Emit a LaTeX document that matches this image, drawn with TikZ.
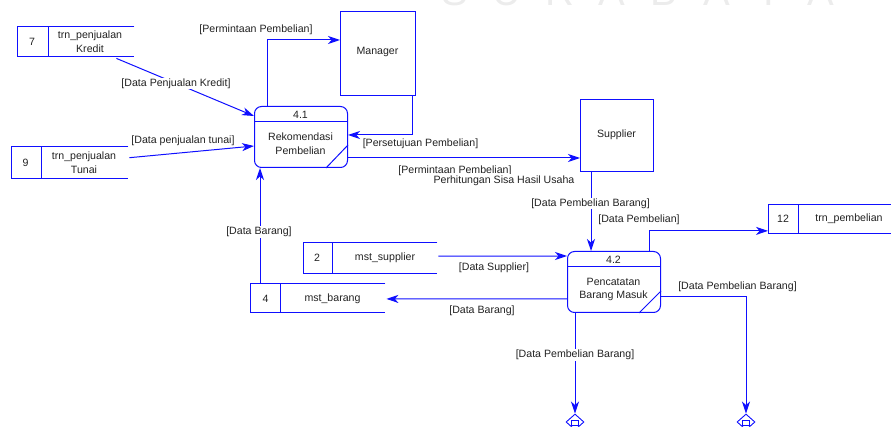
\documentclass[tikz,border=0pt]{standalone}
\usepackage{fontspec}
\setmainfont{Liberation Sans}
\usetikzlibrary{arrows.meta,calc,shapes.geometric}
\definecolor{dfdblue}{RGB}{15,15,255}
\definecolor{inkgray}{RGB}{34,34,34}
\definecolor{wmgray}{RGB}{236,236,236}

\begin{document}
\begin{tikzpicture}[x=1pt,y=-1pt,
  every node/.style={font=\fontsize{10.6}{13.7}\selectfont, text=inkgray, inner sep=0pt, align=center},
  wire/.style={draw=dfdblue, line width=1pt},
  flow/.style={wire, -{Stealth[length=12pt,width=8pt,inset=3.5pt]}},
  slot/.style={rectangle, anchor=north west, draw=none, inner sep=0pt},
  procbox/.style={rectangle, anchor=north west, draw=dfdblue, line width=1pt, rounded corners=7pt,
                  minimum width=93pt, minimum height=61pt, inner sep=0pt},
  entity/.style={rectangle, anchor=north west, draw=dfdblue, line width=1pt, inner sep=0pt},
  sink/.style={diamond, draw=dfdblue, line width=0.9pt, minimum width=18pt, minimum height=16pt, inner sep=0pt},
  lbl/.style={},
  lblw/.style={fill=white, inner sep=1pt},
  wm/.style={font=\fontsize{40}{40}\selectfont, text=wmgray, anchor=base}
]
\useasboundingbox (0,0) rectangle (891,427);
\clip (0,0) rectangle (891,427);

% faint watermark lettering along the top edge
\foreach \ch [count=\i] in {S,U,R,A,B,A,Y,A}
  \node[wm] (wm\i) at ({455+(\i-1)*52.3},6) {\ch};

% ---------- data stores ----------
\node[slot, minimum width=117pt, minimum height=29pt] (s7) at (17,27) {};
\node[slot, minimum width=117pt, minimum height=31pt] (s9) at (11,147) {};
\node[slot, minimum width=130pt, minimum height=28pt] (s12) at (768,205) {};
\node[slot, minimum width=134pt, minimum height=30pt] (s2) at (303,243) {};
\node[slot, minimum width=135pt, minimum height=28.5pt] (s4) at (250,284) {};

\foreach \s/\d in {s7/31, s9/30, s12/30, s2/29.5, s4/30.5} {
  \draw[wire] (\s.north east) -- (\s.north west) -- (\s.south west) -- (\s.south east);
  \draw[wire] ($(\s.north west)+(\d,0)$) -- ($(\s.south west)+(\d,0)$);
}

\node (s7id) at (32,41.5) {7};
\node (s7txt) at (90,41.5) {trn\_penjualan\\Kredit};
\node (s9id) at (25.5,162.5) {9};
\node (s9txt) at (84,162.5) {trn\_penjualan\\Tunai};
\node (s12id) at (783,219) {12};
\node (s12txt) at (849,219) {trn\_pembelian};
\node (s2id) at (317,258) {2};
\node (s2txt) at (385,258) {mst\_supplier};
\node (s4id) at (265.5,298.5) {4};
\node (s4txt) at (332.5,298.5) {mst\_barang};

% ---------- processes ----------
\node[procbox] (p41) at (254,106) {};
\draw[wire] ($(p41.north west)+(0,16)$) -- ($(p41.north east)+(0,16)$);
\draw[wire] ($(p41.north east)+(0,39)$) -- ($(p41.south east)+(-22,0)$);
\node (p41id) at (300.5,114.5) {4.1};
\node (p41txt) at (300.5,144) {Rekomendasi\\Pembelian};

\node[procbox] (p42) at (567,251) {};
\draw[wire] ($(p42.north west)+(0,16)$) -- ($(p42.north east)+(0,16)$);
\draw[wire] ($(p42.north east)+(0,40)$) -- ($(p42.south east)+(-22,0)$);
\node (p42id) at (613.5,259.5) {4.2};
\node (p42txt) at (613.5,289.5) {Pencatatan\\Barang Masuk};

% ---------- external entities ----------
\node[entity, minimum width=75pt, minimum height=84pt] (mgr) at (340,11) {};
\node (mgrtxt) at (377.5,52) {Manager};
\node[entity, minimum width=73pt, minimum height=72pt] (sup) at (580,99) {};
\node (suptxt) at (616.5,135) {Supplier};

% ---------- off-page sinks ----------
\node[sink] (d1) at (575,422) {};
\node[draw=dfdblue, line width=0.8pt, minimum width=7pt, minimum height=5pt, inner sep=0pt] (d1box) at (575,422.5) {};
\node[sink] (d2) at (746,422) {};
\node[draw=dfdblue, line width=0.8pt, minimum width=7pt, minimum height=5pt, inner sep=0pt] (d2box) at (746,422.5) {};

% ---------- data flows ----------
\draw[flow] ($(s7.south east)+(-18,2)$) -- ($(p41.north west)+(0,10)$);
\draw[flow] ($(s9.east)+(1,-5)$) -- ($(p41.north west)+(0,40)$);
\draw[flow] ($(p41.north west)+(13,0)$) |- ($(mgr.north west)+(0,29)$);
\draw[flow] ($(mgr.south east)+(-4,0)$) |- ($(p41.north east)+(0,29)$);
\draw[flow] ($(p41.north east)+(0,52)$) -- ($(sup.north west)+(0,59)$);
\draw[flow] ($(sup.south west)+(11,0)$) -- ($(p42.north west)+(24,0)$);
\draw[flow] ($(p42.north east)+(-12,0)$) |- ($(s12.south west)+(0,-2.5)$);
\draw[flow] ($(s2.east)+(1,-2)$) -- ($(p42.north west)+(0,5)$);
\draw[flow] ($(p42.north west)+(0,48)$) -- ($(s4.east)+(1,0.5)$);
\draw[flow] ($(s4.north west)+(10,0)$) -- ($(p41.south west)+(6,0)$);
\draw[flow] ($(p42.south west)+(8,0)$) -- (d1.north);
\draw[flow] ($(p42.north east)+(0,46)$) -| (d2.north);

% ---------- flow labels ----------
\node[lbl] (l1) at (256,30) {[Permintaan Pembelian]};
\node[lbl] (l2) at (420.5,143.5) {[Persetujuan Pembelian]};
\node[lblw] (l3) at (176,83.5) {[Data Penjualan Kredit]};
\node[lbl] (l4) at (183,141) {[Data penjualan tunai]};
\node[lbl] (l5) at (455,171) {[Permintaan Pembelian]};
\node[lblw, inner sep=1.5pt] (l6) at (504,180.5) {Perhitungan Sisa Hasil Usaha};
\node[lblw] (l7) at (590.5,203.5) {[Data Pembelian Barang]};
\node[lbl] (l8) at (639,219.5) {[Data Pembelian]};
\node[lblw] (l9) at (259,232) {[Data Barang]};
\node[lbl] (l10) at (494,268) {[Data Supplier]};
\node[lbl] (l11) at (482,311) {[Data Barang]};
\node[lbl] (l12) at (737.5,287) {[Data Pembelian Barang]};
\node[lblw] (l13) at (575,355) {[Data Pembelian Barang]};
\end{tikzpicture}
\end{document}
